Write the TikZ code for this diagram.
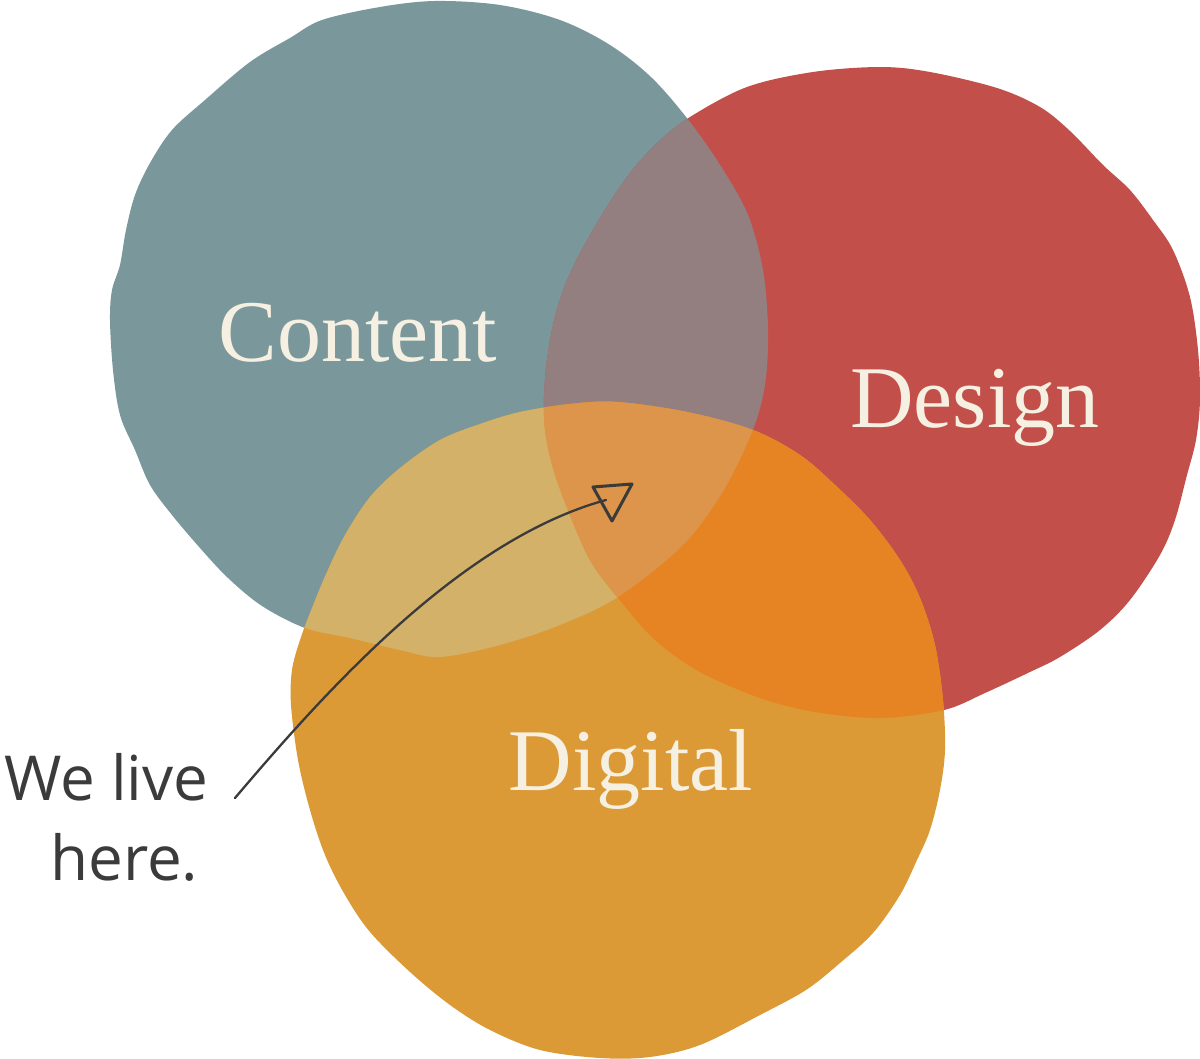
\documentclass[tikz,border=0pt]{standalone}
\usepackage{fontspec}
\newfontfamily\handfont{Open Sans}
\newfontfamily\labelfont{Liberation Serif}
\definecolor{cC}{HTML}{7A979B}
\definecolor{cD}{HTML}{C24F4A}
\definecolor{cG}{HTML}{DB9A36}
\definecolor{cCD}{HTML}{947F80}
\definecolor{cCG}{HTML}{D3B169}
\definecolor{cDG}{HTML}{E68424}
\definecolor{cCDG}{HTML}{DC954A}
\definecolor{cream}{HTML}{F5F0E1}
\definecolor{ink}{HTML}{3B3B3B}
\tikzset{
  contentshape/.style={insert path={plot[smooth cycle, tension=0.55] coordinates {
    (322,20) (380,7) (435,1) (500,5) (560,20) (610,45) (652,78) (690,122) (722,168)
    (748,215) (763,270) (768,330) (765,385) (752,432) (722,493) (682,546) (618,597)
    (560,625) (500,645) (440,657) (400,650) (350,638) (305,628) (262,606) (228,578)
    (200,548) (172,515) (150,485) (135,450) (120,415) (113,370) (110,320) (112,290)
    (120,265) (126,230) (135,195) (150,163) (172,130) (205,100) (250,62) (290,38)}}},
  designshape/.style={insert path={plot[smooth cycle, tension=0.55] coordinates {
    (690,117) (747,87) (813,72) (880,67) (930,72) (997,88) (1040,107) (1070,131)
    (1103,165) (1130,190) (1153,220) (1173,250) (1190,297) (1198,350) (1200,400)
    (1196,440) (1187,475) (1175,520) (1160,555) (1130,600) (1100,630) (1060,657)
    (1030,672) (985,693) (944,710) (880,718) (815,712) (760,698) (700,672) (655,640)
    (618,598) (590,560) (568,510) (553,468) (545,430) (544,395) (547,360) (553,325)
    (562,293) (575,263) (590,235) (608,205) (630,173) (657,143)}}},
  digitalshape/.style={insert path={plot[smooth cycle, tension=0.55] coordinates {
    (617,402) (687,412) (753,430) (800,455) (835,485) (870,520) (900,560) (920,598)
    (935,645) (943,700) (945,750) (940,790) (930,830) (917,860) (900,895) (873,933)
    (840,963) (806,990) (760,1015) (700,1045) (650,1057) (600,1058) (540,1050)
    (490,1030) (450,1005) (410,972) (370,932) (345,895) (325,855) (310,810) (298,760)
    (291,705) (292,670) (300,640) (312,608) (327,572) (345,535) (370,497) (400,468)
    (440,440) (480,424) (520,412) (570,404)}}},
  lbl/.style={text=cream, anchor=base, inner sep=0pt,
    font=\labelfont\fontsize{88}{88}\selectfont},
  hand/.style={text=ink, anchor=base west, inner sep=0pt,
    font=\handfont\fontsize{62}{62}\selectfont},
  pen/.style={draw=ink, line width=2.3pt, line cap=round},
  tipline/.style={draw=ink, line width=3pt, line join=round}
}
\begin{document}
\begin{tikzpicture}[x=1pt, y=-1pt]
\useasboundingbox (0,0) rectangle (1200,1059);
\fill[cC, contentshape];
\fill[cD, designshape];
\fill[cG, digitalshape];
\begin{scope}
  \path[clip, contentshape];
  \fill[cCD, designshape];
  \fill[cCG, digitalshape];
\end{scope}
\begin{scope}
  \path[clip, designshape];
  \fill[cDG, digitalshape];
\end{scope}
\begin{scope}
  \path[clip, contentshape];
  \path[clip, designshape];
  \fill[cCDG, digitalshape];
\end{scope}
\node[lbl] (content) at (358,362) {Content};
\node[lbl] (design) at (975,428) {Design};
\node[lbl] (digital) at (631,790) {Digital};
\node[hand] (live) at (4,800) {We live};
\node[hand] (here) at (50,880) {here.};
\coordinate (tail) at (235,798);
\coordinate (tip) at (606,500);
\draw[pen] (tail) .. controls (325,692) and (460,540) .. (tip);
\draw[tipline] (593,487) -- (632,484) -- (612,521) -- cycle;
\end{tikzpicture}
\end{document}
